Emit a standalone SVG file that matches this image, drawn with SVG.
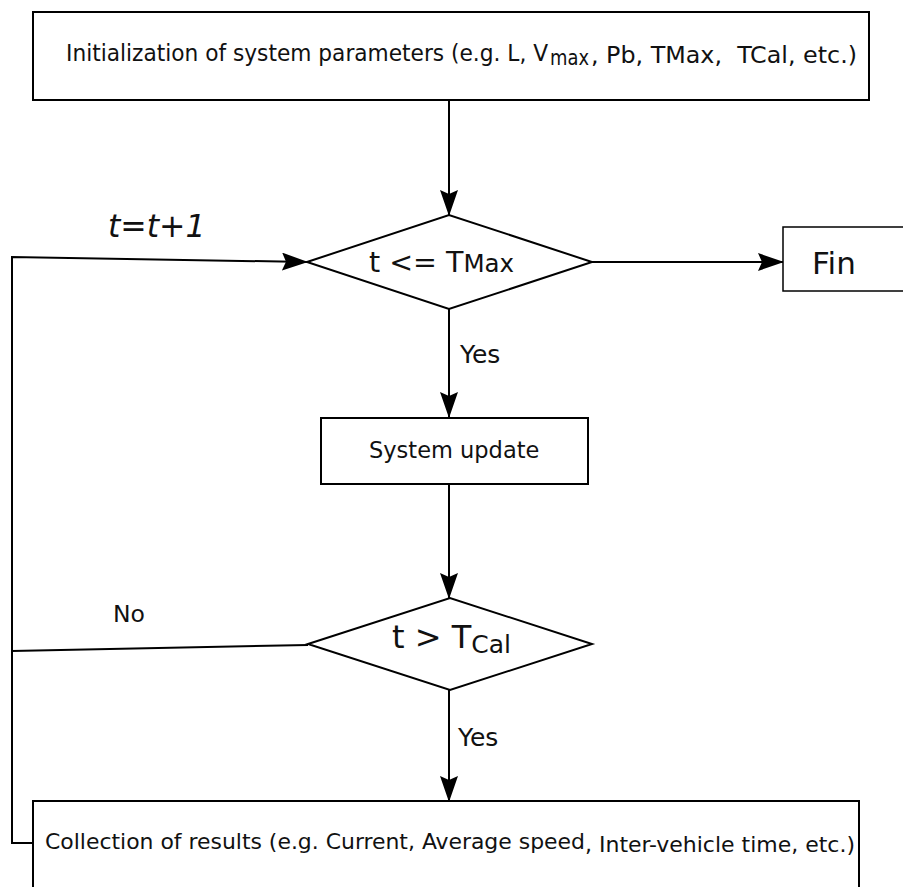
<svg xmlns="http://www.w3.org/2000/svg" width="903" height="887" viewBox="0 0 903 887">
<defs>
<marker id="arr" markerWidth="26" markerHeight="18" refX="25" refY="9" orient="auto" markerUnits="userSpaceOnUse">
<path d="M0,0 L26,9 L0,18 L4,9 Z" fill="#000"/>
</marker>
<style>
.box{fill:#fff;stroke:#000;stroke-width:2}
.dia{fill:#fff;stroke:#000;stroke-width:2}
.ln{fill:none;stroke:#000;stroke-width:2}
.t{font-family:"DejaVu Sans",Verdana,sans-serif;fill:#111}
.c{font-family:"DejaVu Sans Condensed","DejaVu Sans",sans-serif;fill:#111}
</style>
</defs>
<rect width="903" height="887" fill="#fff"/>
<g id="connectors">
<line class="ln" x1="449" y1="100" x2="449" y2="215" marker-end="url(#arr)"/>
<polyline class="ln" points="34,843 12,843 12,257 307,262" marker-end="url(#arr)"/>
<line class="ln" x1="308" y1="645" x2="12" y2="651"/>
<line class="ln" x1="592" y1="262" x2="783" y2="262" marker-end="url(#arr)"/>
<line class="ln" x1="449" y1="309" x2="449" y2="417" marker-end="url(#arr)"/>
<line class="ln" x1="449" y1="484" x2="449" y2="598" marker-end="url(#arr)"/>
<line class="ln" x1="449" y1="690" x2="449" y2="801" marker-end="url(#arr)"/>
</g>
<g id="init">
<rect class="box" x="33" y="12" width="836" height="88"/>
<text class="c" font-size="23" xml:space="preserve"><tspan x="66" y="61" textLength="482" lengthAdjust="spacingAndGlyphs">Initialization of system parameters (e.g. L, V</tspan><tspan x="550" y="65" font-size="22" textLength="39" lengthAdjust="spacingAndGlyphs">max</tspan><tspan x="591" y="63" textLength="266" lengthAdjust="spacingAndGlyphs">, Pb, TMax,  TCal, etc.)</tspan></text>
</g>
<g id="loop-label">
<text class="t" x="108" y="237" font-size="31.5" font-style="italic">t=t+1</text>
</g>
<g id="cond-tmax">
<polygon class="dia" points="307,262 449,215 592,262 449,309"/>
<text class="t" x="369" y="272" font-size="28.5">t &lt;= T<tspan font-size="24.5">Max</tspan></text>
</g>
<g id="fin">
<rect x="783" y="227" width="130" height="64" fill="#fff" stroke="#000" stroke-width="1.5"/>
<text class="t" x="812" y="274" font-size="31">Fin</text>
</g>
<g id="yes1"><text class="t" x="460" y="363" font-size="25">Yes</text></g>
<g id="update">
<rect class="box" x="321" y="418" width="267" height="66"/>
<text class="t" x="369" y="458" font-size="22.5">System update</text>
</g>
<g id="cond-tcal">
<polygon class="dia" points="308,644 450,598 592,644 450,690"/>
<text class="t" x="392" y="648" font-size="32">t &gt; T<tspan font-size="25" dy="5">Cal</tspan></text>
</g>
<g id="no"><text class="t" x="113" y="622" font-size="23.5">No</text></g>
<g id="yes2"><text class="t" x="458" y="746" font-size="25">Yes</text></g>
<g id="collect">
<rect class="box" x="33" y="801" width="826" height="100"/>
<text class="c" font-size="22"><tspan x="45" y="849" textLength="540" lengthAdjust="spacingAndGlyphs">Collection of results (e.g. Current, Average speed</tspan><tspan x="585" y="852" textLength="270" lengthAdjust="spacingAndGlyphs">, Inter-vehicle time, etc.)</tspan></text>
</g>
</svg>
